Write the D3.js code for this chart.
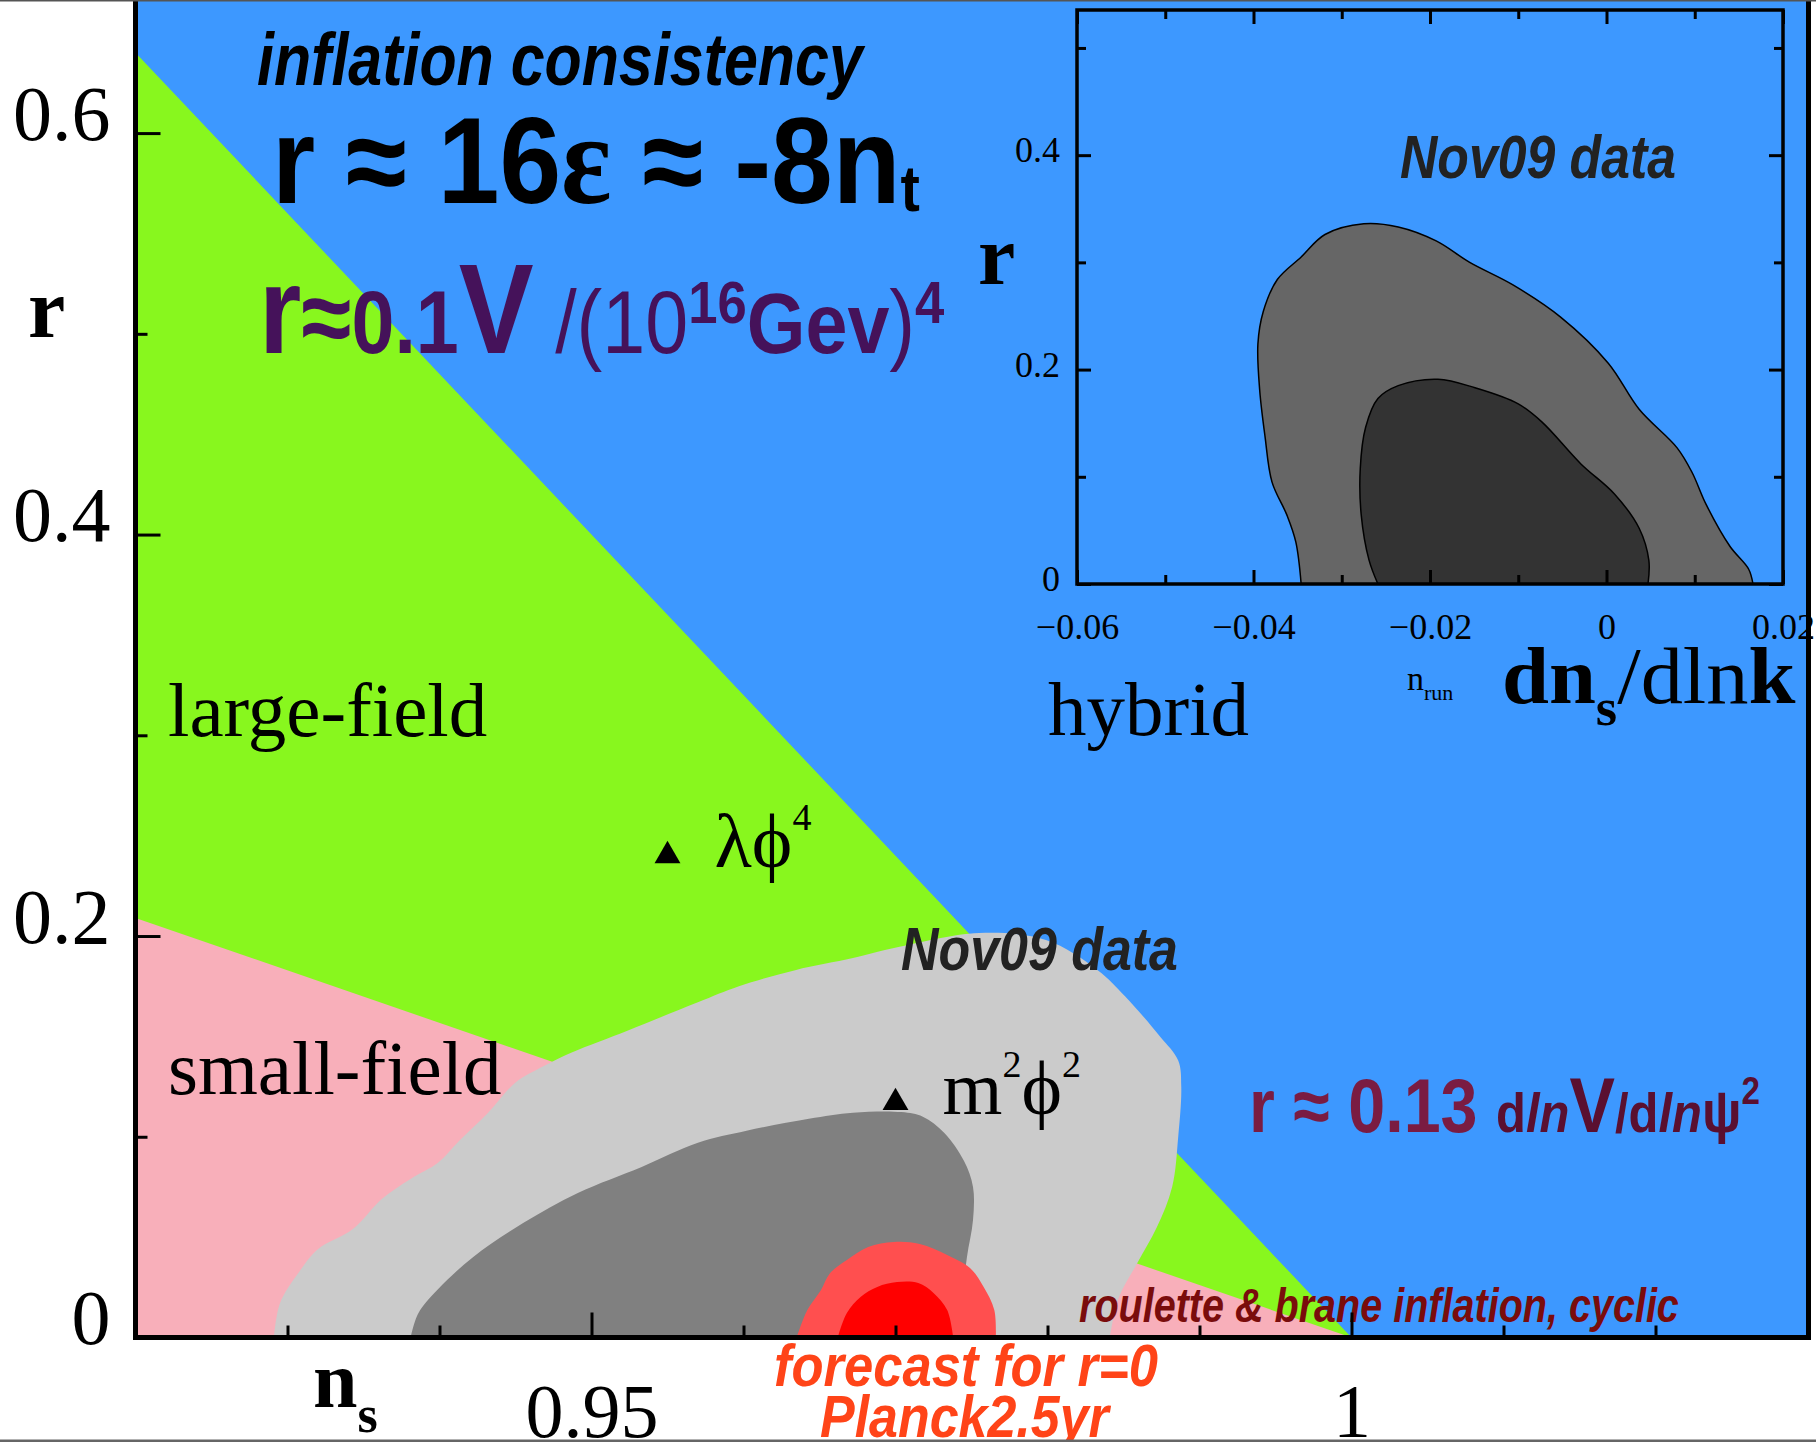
<!DOCTYPE html>
<html>
<head>
<meta charset="utf-8">
<script src="https://cdn.jsdelivr.net/npm/d3@7"></script>
<style>
  body { margin: 0; background: #fff; }
  svg { display: block; }
</style>
</head>
<body>
<div id="chart"></div>
<script>
const W = 1816, H = 1442;
const SERIF = '"Liberation Serif", "Times New Roman", serif';
const SANS = '"Liberation Sans Narrow", "Liberation Sans", Arial, sans-serif';

// main panel ticks (n_s on x, r on y)
const nsMajor = [0.95, 1.0];
const nsMinor = [0.93, 0.94, 0.96, 0.97, 0.98, 0.99, 1.01, 1.02];
const rMajor = [0, 0.2, 0.4, 0.6];
const rMinor = [0.1, 0.3, 0.5];

// borders between model classes, as [ns, r]
const largeFieldEdge = [[0.92, 0.64], [1.0, 0]];
const smallFieldEdge = [[0.92, 0.209], [1.0, 0]];

// Nov09 data contours
const nov09Outer = [[0.9291,0],[0.9295,0.017],[0.9307,0.032],[0.9320,0.044],[0.9343,0.054],[0.9362,0.069],
  [0.9381,0.079],[0.9399,0.087],[0.9413,0.098],[0.9432,0.112],[0.9450,0.127],[0.9468,0.135],[0.9487,0.142],
  [0.9524,0.153],[0.9570,0.167],[0.9597,0.175],[0.9634,0.183],[0.9672,0.189],[0.9699,0.194],[0.9755,0.2015],
  [0.9799,0.198],[0.9833,0.183],[0.9851,0.170],[0.9874,0.150],[0.9886,0.138],[0.9888,0.125],[0.9886,0.100],
  [0.9882,0.075],[0.9872,0.055],[0.9859,0.037],[0.9847,0.020],[0.9841,0]];
const nov09Inner = [[0.9381,0],[0.9386,0.012],[0.9399,0.024],[0.9422,0.040],[0.9455,0.057],[0.9491,0.072],
  [0.9533,0.085],[0.9570,0.097],[0.9602,0.103],[0.9643,0.109],[0.9672,0.112],[0.9704,0.1123],[0.9718,0.110],
  [0.9732,0.102],[0.9745,0.088],[0.9751,0.075],[0.9751,0.0585],[0.9747,0.040],[0.9745,0.025],[0.9745,0]];

// Planck forecast for r=0
const planckOuter = [[0.9635,0],[0.9642,0.0137],[0.9651,0.0237],[0.9657,0.0321],[0.9668,0.0386],[0.9682,0.0451],
  [0.9699,0.0476],[0.9716,0.0466],[0.9734,0.0411],[0.9749,0.0346],[0.9758,0.0252],[0.9765,0.0137],[0.9766,0]];
const planckInner = [[0.9662,0],[0.9668,0.0122],[0.9677,0.0202],[0.9688,0.0252],[0.9701,0.0276],[0.9715,0.0271],
  [0.9725,0.0222],[0.9734,0.0137],[0.9738,0]];

// model points
const models = [
  {ns: 0.955, r: 0.240, parts: [["λϕ", 0], ["4", 1]]},
  {ns: 0.970, r: 0.117, parts: [["m", 0], ["2", 1], ["ϕ", 0], ["2", 1]]}
];

// inset: running vs r
const runMajor = [-0.06, -0.04, -0.02, 0, 0.02];
const runMinor = [-0.05, -0.03, -0.01, 0.01];
const irMajor = [0, 0.2, 0.4];
const irMinor = [0.1, 0.3, 0.5];
const insetOuter = [[-0.0346,0],[-0.0352,0.039],[-0.0362,0.064],[-0.0379,0.095],[-0.0387,0.138],[-0.0393,0.181],
  [-0.0395,0.224],[-0.0389,0.254],[-0.0373,0.284],[-0.0346,0.305],[-0.0319,0.326],[-0.0275,0.336],[-0.0236,0.333],
  [-0.0193,0.320],[-0.0155,0.300],[-0.0106,0.279],[-0.0052,0.249],[0.0002,0.206],[0.0037,0.163],[0.0080,0.127],
  [0.0097,0.104],[0.0113,0.074],[0.0140,0.035],[0.0161,0.014],[0.0166,0]];
const insetInner = [[-0.0259,0],[-0.0269,0.022],[-0.0278,0.065],[-0.0279,0.108],[-0.0273,0.146],[-0.0259,0.173],
  [-0.0236,0.185],[-0.0191,0.191],[-0.0149,0.183],[-0.0100,0.168],[-0.0073,0.151],[-0.0029,0.112],[0.0009,0.084],
  [0.0037,0.052],[0.0048,0.022],[0.0047,0]];

const x = d3.scaleLinear().domain([0.92, 1.03]).range([135.5, 1807.5]);
const y = d3.scaleLinear().domain([0, 0.6663]).range([1337.5, 0]);
const ix = d3.scaleLinear().domain([-0.06, 0.02]).range([1077, 1783]);
const iy = d3.scaleLinear().domain([0, 0.5354]).range([584, 10]);

const svg = d3.select("#chart").append("svg").attr("width", W).attr("height", H);
svg.append("rect").attr("width", W).attr("height", H).attr("fill", "#fff");

svg.append("clipPath").attr("id", "plotclip").append("rect")
  .attr("x", x(0.92)).attr("y", 0).attr("width", x(1.03) - x(0.92)).attr("height", y(0));

const plot = svg.append("g").attr("clip-path", "url(#plotclip)");
plot.append("rect").attr("x", x(0.92)).attr("y", 0)
  .attr("width", x(1.03) - x(0.92)).attr("height", y(0)).attr("fill", "#3d98ff");

const poly = d3.line(d => x(d[0]), d => y(d[1]));
plot.append("path").attr("d", poly([...largeFieldEdge, [0.92, 0]]) + "Z").attr("fill", "#88f71e");
plot.append("path").attr("d", poly([...smallFieldEdge, [0.92, 0]]) + "Z").attr("fill", "#f8afba");

const smooth = d3.line(d => x(d[0]), d => y(d[1])).curve(d3.curveCatmullRom);
plot.append("path").attr("d", smooth(nov09Outer) + "Z").attr("fill", "#cbcbcb");
plot.append("path").attr("d", smooth(nov09Inner) + "Z").attr("fill", "#808080");
plot.append("path").attr("d", smooth(planckOuter) + "Z").attr("fill", "#ff4f4f");
plot.append("path").attr("d", smooth(planckInner) + "Z").attr("fill", "#ff0000");

// squeeze a text horizontally so it spans [x0, x0 + w]
function fit(t, x0, y0, w) {
  const bb = t.node().getBBox();
  const s = w / bb.width;
  t.attr("transform", `translate(${x0},${y0}) scale(${s},1) translate(${-bb.x},0)`);
  return t;
}
function rich(parent, parts, attrs) {
  const t = parent.append("text");
  Object.entries(attrs || {}).forEach(([k, v]) => t.attr(k, v));
  parts.forEach(p => {
    const s = t.append("tspan").text(p.t);
    Object.entries(p).forEach(([k, v]) => { if (k !== "t") s.attr(k, v); });
  });
  return t;
}

// model markers
const tri = d3.symbol(d3.symbolTriangle, 290);
models.forEach(m => {
  plot.append("path").attr("d", tri()).attr("fill", "#000")
    .attr("transform", `translate(${x(m.ns)},${y(m.r)})`);
  const t = plot.append("text").attr("x", x(m.ns) + 47).attr("y", y(m.r) + 11)
    .attr("font-family", SERIF).attr("font-size", 77);
  let up = false;
  m.parts.forEach(([s, sup]) => {
    const ts = t.append("tspan").text(s);
    if (sup && !up) { ts.attr("font-size", 38).attr("dy", -37); up = true; }
    else if (!sup && up) { ts.attr("dy", 37); up = false; }
    else if (sup) ts.attr("font-size", 38);
  });
});

// region names
const serifLabels = [["large-field", 168, 736], ["small-field", 168, 1094], ["hybrid", 1048, 735]];
serifLabels.forEach(([s, lx, ly]) => {
  plot.append("text").attr("x", lx).attr("y", ly).attr("font-family", SERIF)
    .attr("font-size", 77).text(s);
});

// headline formulas
fit(plot.append("text").attr("font-family", SANS).attr("font-weight", "bold").attr("font-style", "italic")
  .attr("font-size", 74).text("inflation consistency"), 257, 85, 609);

fit(rich(plot, [
  {t: "r ≈ 16"},
  {t: "ε", "font-family": SERIF, "font-size": 130},
  {t: " ≈ -8n"},
  {t: "t", "font-size": 64, dy: 8}
], {"font-family": SANS, "font-weight": "bold", "font-size": 122, fill: "#000"}), 272, 203, 648);

fit(rich(plot, [
  {t: "r", "font-size": 124},
  {t: "≈", "font-size": 104},
  {t: "0.1", "font-size": 88},
  {t: "V", "font-size": 128},
  {t: " /(10", "font-size": 88, "font-weight": "normal"},
  {t: "16", "font-size": 60, dy: -30},
  {t: "Gev", "font-size": 86, dy: 30},
  {t: ")", "font-size": 88, "font-weight": "normal"},
  {t: "4", "font-size": 60, dy: -30}
], {"font-family": SANS, "font-weight": "bold", fill: "#45125a"}), 259, 353, 686);

fit(rich(plot, [
  {t: "r ≈ 0.13 ", "font-size": 76, fill: "#7a1c42"},
  {t: "d"},
  {t: "ln", "font-style": "italic"},
  {t: "V", "font-size": 78},
  {t: "/d"},
  {t: "ln", "font-style": "italic"},
  {t: "ψ", "font-size": 60},
  {t: "2", "font-size": 38, dy: -28}
], {"font-family": SANS, "font-weight": "bold", "font-size": 56, fill: "#5a1030"}), 1249, 1132, 511);

const nov = (x0, y0) => fit(plot.append("text").attr("font-family", SANS).attr("font-weight", "bold")
  .attr("font-style", "italic").attr("font-size", 62).attr("fill", "#222").text("Nov09 data"), x0, y0, 277);
nov(901, 970);

fit(plot.append("text").attr("font-family", SANS).attr("font-weight", "bold").attr("font-style", "italic")
  .attr("font-size", 48).attr("fill", "#7a0c0c").text("roulette & brane inflation, cyclic"), 1079, 1322, 600);

// inset panel
const inset = svg.append("g");
const ismooth = d3.line(d => ix(d[0]), d => iy(d[1])).curve(d3.curveCatmullRom);
inset.append("path").attr("d", ismooth(insetOuter) + "Z").attr("fill", "#666").attr("stroke", "#000").attr("stroke-width", 1.5);
inset.append("path").attr("d", ismooth(insetInner) + "Z").attr("fill", "#333").attr("stroke", "#000").attr("stroke-width", 1.5);
fit(inset.append("text").attr("font-family", SANS).attr("font-weight", "bold")
  .attr("font-style", "italic").attr("font-size", 62).attr("fill", "#222").text("Nov09 data"), 1400, 178, 276);

function ticks(g, axis, vals, size, fmt) {
  const a = g.append("g").call(axis.tickValues(vals).tickSize(-size).tickSizeOuter(0).tickFormat(fmt || ""));
  a.select(".domain").remove();
  a.selectAll(".tick line").attr("stroke", "#000").attr("stroke-width", 3);
  if (!fmt) a.selectAll(".tick text").remove();
  a.attr("font-family", SERIF).attr("fill", null);
  return a;
}
const ib = ticks(inset, d3.axisBottom(ix), runMajor, 14, d => d === 0 ? "0" : d3.format(".2f")(d).replace("-", "−"));
ib.attr("transform", `translate(0,${iy(0)})`).attr("font-size", 36);
ib.selectAll("text").attr("y", 55).attr("dy", 0).attr("fill", "#000");
ticks(inset, d3.axisBottom(ix), runMinor, 9).attr("transform", `translate(0,${iy(0)})`);
ticks(inset, d3.axisTop(ix), runMajor, 14).attr("transform", `translate(0,${iy(0.5354)})`);
ticks(inset, d3.axisTop(ix), runMinor, 9).attr("transform", `translate(0,${iy(0.5354)})`);
const il = ticks(inset, d3.axisLeft(iy), irMajor, 14, d => d === 0 ? "0" : d3.format(".1f")(d));
il.attr("transform", `translate(${ix(-0.06)},0)`).attr("font-size", 36);
il.selectAll("text").attr("x", -17).attr("dy", "0.18em").attr("fill", "#000");
ticks(inset, d3.axisLeft(iy), irMinor, 9).attr("transform", `translate(${ix(-0.06)},0)`);
ticks(inset, d3.axisRight(iy), irMajor, 14).attr("transform", `translate(${ix(0.02)},0)`);
ticks(inset, d3.axisRight(iy), irMinor, 9).attr("transform", `translate(${ix(0.02)},0)`);
inset.append("rect").attr("x", ix(-0.06)).attr("y", iy(0.5354))
  .attr("width", ix(0.02) - ix(-0.06)).attr("height", iy(0) - iy(0.5354))
  .attr("fill", "none").attr("stroke", "#000").attr("stroke-width", 3.5);

inset.append("text").attr("x", 978).attr("y", 284).attr("font-family", SERIF)
  .attr("font-weight", "bold").attr("font-size", 84).text("r");
rich(inset, [{t: "n"}, {t: "run", "font-size": 22, dy: 10}],
  {x: 1407, y: 690, "font-family": SERIF, "font-size": 34});
fit(rich(inset, [
  {t: "dn", "font-weight": "bold"},
  {t: "s", "font-weight": "bold", "font-size": 52, dy: 22},
  {t: "/dln", dy: -22},
  {t: "k", "font-weight": "bold"}
], {"font-family": SERIF, "font-size": 80}), 1502, 703, 294);

// main axes
const mb = ticks(svg, d3.axisBottom(x), nsMajor, 25, d => d === 1 ? "1" : "0.95");
mb.attr("transform", `translate(0,${y(0)})`).attr("font-size", 76);
mb.selectAll("text").attr("y", 99).attr("dy", 0).attr("fill", "#000");
ticks(svg, d3.axisBottom(x), nsMinor, 12).attr("transform", `translate(0,${y(0)})`);
const ml = ticks(svg, d3.axisLeft(y), rMajor, 25, d => d === 0 ? "0" : d3.format(".1f")(d));
ml.attr("transform", `translate(${x(0.92)},0)`).attr("font-size", 78);
ml.selectAll("text").attr("x", -25).attr("dy", "0.08em").attr("fill", "#000");
ticks(svg, d3.axisLeft(y), rMinor, 12).attr("transform", `translate(${x(0.92)},0)`);

const frame = svg.append("g").attr("stroke", "#000").attr("stroke-width", 5).attr("fill", "none");
frame.append("line").attr("x1", x(0.92)).attr("x2", x(0.92)).attr("y1", 0).attr("y2", y(0) + 2.5);
frame.append("line").attr("x1", x(0.92) - 2.5).attr("x2", x(1.03) + 3.5).attr("y1", y(0)).attr("y2", y(0));
frame.append("line").attr("x1", x(1.03) + 1).attr("x2", x(1.03) + 1).attr("y1", 0).attr("y2", y(0) + 2.5);

// axis titles
svg.append("text").attr("x", 28).attr("y", 337).attr("font-family", SERIF)
  .attr("font-weight", "bold").attr("font-size", 84).text("r");
rich(svg, [{t: "n"}, {t: "s", "font-size": 52, dy: 25}],
  {x: 313, y: 1407, "font-family": SERIF, "font-weight": "bold", "font-size": 80});

// forecast note below the axis
const fc = {"font-family": SANS, "font-weight": "bold", "font-style": "italic", "font-size": 60, fill: "#ff4418"};
fit(rich(svg, [{t: "forecast for r=0"}], fc), 774, 1386, 384);
fit(rich(svg, [{t: "Planck2.5yr"}], fc), 820, 1437, 292);

// picture border
svg.append("line").attr("x1", 0).attr("x2", W).attr("y1", 0.75).attr("y2", 0.75).attr("stroke", "#555").attr("stroke-width", 1.5);
svg.append("line").attr("x1", 0).attr("x2", W).attr("y1", 1440.8).attr("y2", 1440.8).attr("stroke", "#666").attr("stroke-width", 2.5);
</script>
</body>
</html>
